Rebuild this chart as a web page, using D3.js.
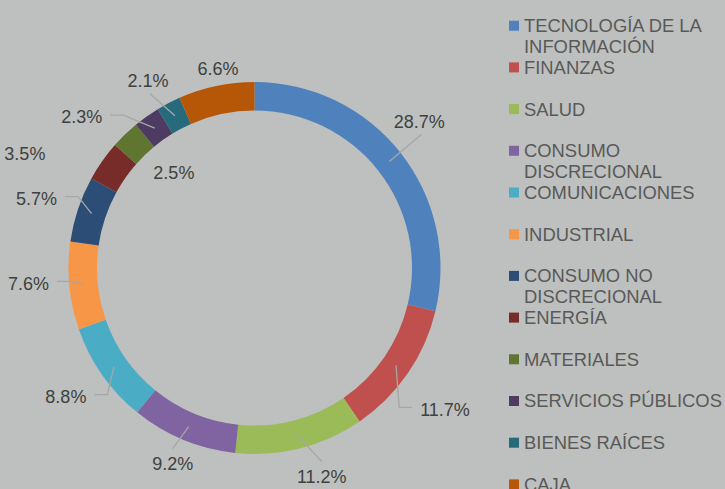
<!DOCTYPE html>
<html lang="es">
<head>
<meta charset="UTF-8">
<title>Distribución por sector</title>
<script src="https://d3js.org/d3.v7.min.js"></script>
<style>
    body, html { margin: 0; padding: 0; overflow: hidden; background: #bdc0be; }
    svg { display: block; font-family: "Liberation Sans", Arial, sans-serif; }
</style>
</head>
<body>
<svg width="725" height="489"></svg>
<script>
// sector data
const sectors = ["TECNOLOGÍA DE LA INFORMACIÓN", "FINANZAS", "SALUD", "CONSUMO DISCRECIONAL",
    "COMUNICACIONES", "INDUSTRIAL", "CONSUMO NO DISCRECIONAL", "ENERGÍA", "MATERIALES",
    "SERVICIOS PÚBLICOS", "BIENES RAÍCES", "CAJA"];
const values = [28.7, 11.7, 11.2, 9.2, 8.8, 7.6, 5.7, 3.5, 2.5, 2.3, 2.1, 6.6];
const valueLabels = ["28.7%", "11.7%", "11.2%", "9.2%", "8.8%", "7.6%", "5.7%", "3.5%", "2.5%", "2.3%", "2.1%", "6.6%"];
// legend lines (wrapped as in the original)
const legendLines = [["TECNOLOGÍA DE LA", "INFORMACIÓN"], ["FINANZAS"], ["SALUD"], ["CONSUMO", "DISCRECIONAL"],
    ["COMUNICACIONES"], ["INDUSTRIAL"], ["CONSUMO NO", "DISCRECIONAL"], ["ENERGÍA"], ["MATERIALES"],
    ["SERVICIOS PÚBLICOS"], ["BIENES RAÍCES"], ["CAJA"]];
const colors = ["#4f81bd", "#c0504d", "#9bbb59", "#8064a2", "#4bacc6", "#f79646",
    "#2c4d75", "#772c2a", "#5f7530", "#4d3b62", "#276a7c", "#b65708"];

// label placement: offset of text from slice centroid, and leader style
const labelOffsets = [[30, -40], [49, 44], [25, 42], [-16, 37], [-48, 30], [-55, -1],
    [-55, -15], [-89, -16], [39, 28], [-73, -11], [-27, -35], [-1, -31]];
const leaderKind = ["bottom", "elbowV", "top", "top", "elbow", "elbow", "elbow", "none", "none", "elbow", "bottom", "none"];

const svg = d3.select("svg");
const cx = 254.5, cy = 268, outerR = 186, innerR = 157.5;

const pie = d3.pie().sort(null).value(d => d);
const arcs = pie(values);
const arc = d3.arc().innerRadius(innerR).outerRadius(outerR);
const mid = d3.arc().innerRadius((innerR + outerR) / 2).outerRadius((innerR + outerR) / 2);

const g = svg.append("g").attr("transform", `translate(${cx},${cy})`);
g.selectAll("path.slice").data(arcs).join("path")
    .attr("class", "slice")
    .attr("d", arc)
    .attr("fill", (d, i) => colors[i]);

const fontSize = 18;
const labels = svg.append("g").attr("font-size", fontSize).attr("fill", "#404040");
arcs.forEach((d, i) => {
    const [ax, ay] = mid.centroid(d);
    const x0 = cx + ax, y0 = cy + ay;
    const tx = x0 + labelOffsets[i][0], ty = y0 + labelOffsets[i][1];
    const t = labels.append("text")
        .attr("x", tx).attr("y", ty)
        .attr("text-anchor", "middle")
        .attr("dy", "0.35em")
        .text(valueLabels[i]);
    const w = t.node().getComputedTextLength();
    let pts = null;
    const gap = 8, elbow = 13;
    if (leaderKind[i] === "bottom") pts = [[x0, y0], [tx + 2, ty + 13]];
    else if (leaderKind[i] === "top") pts = [[x0, y0], [tx, ty - 15]];
    else if (leaderKind[i] === "elbow") {
        const ex = tx + w / 2 + gap;
        pts = [[x0, y0], [ex + elbow, ty - 2], [ex, ty - 2]];
    } else if (leaderKind[i] === "elbowV") {
        const ex = tx - w / 2 - gap;
        pts = [[x0, y0], [ex - elbow, ty - 2], [ex, ty - 2]];
    }
    if (pts) {
        labels.append("path")
            .attr("d", d3.line()(pts))
            .attr("fill", "none")
            .attr("stroke", "#a6a6a6")
            .attr("stroke-width", 1.3);
    }
});

// legend
const legend = svg.append("g").attr("font-size", 18.4).attr("fill", "#595959");
const rowStep = 41.7, lineStep = 20.7, legendTop = 25.7;
legendLines.forEach((lines, i) => {
    const y = legendTop + i * rowStep;
    legend.append("rect")
        .attr("x", 509).attr("y", y - 5).attr("width", 10).attr("height", 10)
        .attr("fill", colors[i]);
    lines.forEach((ln, j) => {
        legend.append("text")
            .attr("x", 524).attr("y", y + j * lineStep)
            .attr("dy", "0.35em")
            .text(ln);
    });
});
</script>
</body>
</html>
